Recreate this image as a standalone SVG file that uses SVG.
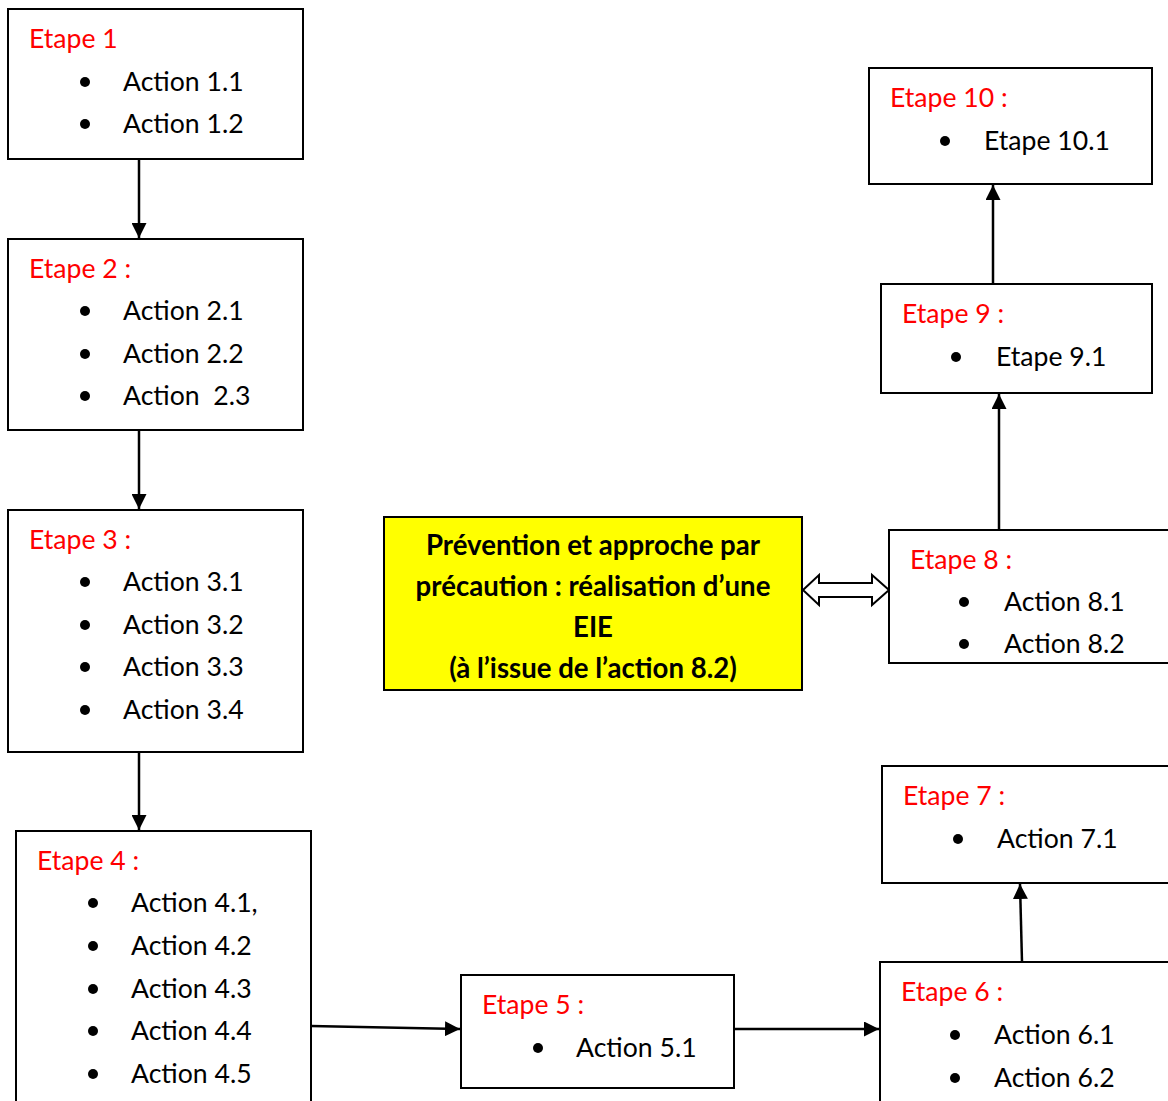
<svg xmlns="http://www.w3.org/2000/svg" width="1168" height="1101" viewBox="0 0 1168 1101">
<style>
.box{fill:#fff;stroke:#000;stroke-width:2}
.t{font-family:Lato,"Open Sans",sans-serif;font-size:26.6px;fill:#000}
.r{fill:#ff0000}
.b{font-family:Lato,"Open Sans",sans-serif;font-size:27.6px;font-weight:bold;fill:#000;text-anchor:middle}
.c{stroke:#000;stroke-width:2.5;fill:none;marker-end:url(#ah)}
</style>
<defs>
<marker id="ah" viewBox="0 0 10 10" refX="10" refY="5" markerWidth="6" markerHeight="6" orient="auto" markerUnits="strokeWidth">
<path d="M0,0 L10,5 L0,10 z" fill="#000"/>
</marker>
</defs>
<rect width="1168" height="1101" fill="#fff"/>
<g id="connectors">
<line class="c" x1="139" y1="159" x2="139" y2="238"/>
<line class="c" x1="139" y1="430" x2="139" y2="509"/>
<line class="c" x1="139" y1="752" x2="139" y2="830"/>
<line class="c" x1="311" y1="1026" x2="460" y2="1029"/>
<line class="c" x1="734" y1="1029" x2="879" y2="1029"/>
<line class="c" x1="1022" y1="962" x2="1020" y2="884"/>
<line class="c" x1="999" y1="530" x2="999" y2="394"/>
<line class="c" x1="993" y1="284" x2="993" y2="185"/>
<path d="M803,590 L819,575 L819,583 L872,583 L872,575 L889,590 L872,605 L872,597 L819,597 L819,605 Z" fill="#fff" stroke="#000" stroke-width="2" stroke-linejoin="miter"/>
</g>
<g id="etape1">
<rect class="box" x="8" y="9" width="295" height="150"/>
<text class="t r" x="29" y="48">Etape 1</text>
<circle cx="85" cy="82" r="5"/><text class="t" x="123" y="91">Action 1.1</text>
<circle cx="85" cy="124" r="5"/><text class="t" x="123" y="133">Action 1.2</text>
</g>
<g id="etape2">
<rect class="box" x="8" y="239" width="295" height="191"/>
<text class="t r" x="29" y="278">Etape 2 :</text>
<circle cx="85" cy="311" r="5"/><text class="t" x="123" y="320">Action 2.1</text>
<circle cx="85" cy="354" r="5"/><text class="t" x="123" y="363">Action 2.2</text>
<circle cx="85" cy="396" r="5"/><text class="t" x="123" y="405" xml:space="preserve">Action  2.3</text>
</g>
<g id="etape3">
<rect class="box" x="8" y="510" width="295" height="242"/>
<text class="t r" x="29" y="549">Etape 3 :</text>
<circle cx="85" cy="582" r="5"/><text class="t" x="123" y="591">Action 3.1</text>
<circle cx="85" cy="625" r="5"/><text class="t" x="123" y="634">Action 3.2</text>
<circle cx="85" cy="667" r="5"/><text class="t" x="123" y="676">Action 3.3</text>
<circle cx="85" cy="710" r="5"/><text class="t" x="123" y="719">Action 3.4</text>
</g>
<g id="etape4">
<rect class="box" x="16" y="831" width="295" height="280"/>
<text class="t r" x="37" y="870">Etape 4 :</text>
<circle cx="93" cy="903" r="5"/><text class="t" x="131" y="912">Action 4.1,</text>
<circle cx="93" cy="946" r="5"/><text class="t" x="131" y="955">Action 4.2</text>
<circle cx="93" cy="989" r="5"/><text class="t" x="131" y="998">Action 4.3</text>
<circle cx="93" cy="1031" r="5"/><text class="t" x="131" y="1040">Action 4.4</text>
<circle cx="93" cy="1074" r="5"/><text class="t" x="131" y="1083">Action 4.5</text>
</g>
<g id="etape5">
<rect class="box" x="461" y="975" width="273" height="113"/>
<text class="t r" x="482" y="1014">Etape 5 :</text>
<circle cx="538" cy="1048" r="5"/><text class="t" x="576" y="1057">Action 5.1</text>
</g>
<g id="etape6">
<rect class="box" x="880" y="962" width="300" height="150"/>
<text class="t r" x="901" y="1001">Etape 6 :</text>
<circle cx="955" cy="1035" r="5"/><text class="t" x="994" y="1044">Action 6.1</text>
<circle cx="955" cy="1078" r="5"/><text class="t" x="994" y="1087">Action 6.2</text>
</g>
<g id="etape7">
<rect class="box" x="882" y="766" width="300" height="117"/>
<text class="t r" x="903" y="805">Etape 7 :</text>
<circle cx="958" cy="839" r="5"/><text class="t" x="997" y="848">Action 7.1</text>
</g>
<g id="etape8">
<rect class="box" x="889" y="530" width="290" height="133"/>
<text class="t r" x="910" y="569">Etape 8 :</text>
<circle cx="964" cy="602" r="5"/><text class="t" x="1004" y="611">Action 8.1</text>
<circle cx="964" cy="644" r="5"/><text class="t" x="1004" y="653">Action 8.2</text>
</g>
<g id="etape9">
<rect class="box" x="881" y="284" width="271" height="109"/>
<text class="t r" x="902" y="323">Etape 9 :</text>
<circle cx="956" cy="357" r="5"/><text class="t" x="996" y="366">Etape 9.1</text>
</g>
<g id="etape10">
<rect class="box" x="869" y="68" width="283" height="116"/>
<text class="t r" x="890" y="107">Etape 10 :</text>
<circle cx="945" cy="141" r="5"/><text class="t" x="984" y="150">Etape 10.1</text>
</g>
<g id="eie">
<rect x="384" y="517" width="418" height="173" fill="#ffff00" stroke="#000" stroke-width="2"/>
<text class="b" x="593" y="555">Prévention et approche par</text>
<text class="b" x="593" y="596">précaution : réalisation d’une</text>
<text class="b" x="593" y="637">EIE</text>
<text class="b" x="593" y="678">(à l’issue de l’action 8.2)</text>
</g>
</svg>
